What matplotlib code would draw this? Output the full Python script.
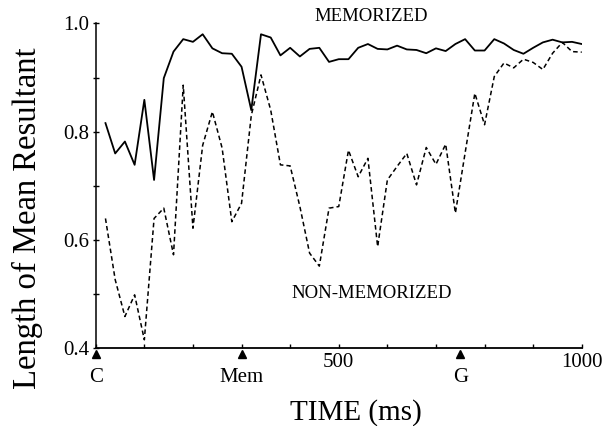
import matplotlib
matplotlib.use("Agg")
import matplotlib.pyplot as plt

# time bins (ms), one every 20 ms
time_ms = list(range(20, 1001, 20))

memorized = [
    0.816, 0.760, 0.782, 0.739, 0.859, 0.711, 0.899, 0.948, 0.971, 0.966,
    0.980, 0.954, 0.945, 0.944, 0.920, 0.840, 0.980, 0.974, 0.941, 0.955,
    0.939, 0.953, 0.955, 0.929, 0.934, 0.934, 0.955, 0.962, 0.953, 0.952,
    0.959, 0.952, 0.951, 0.945, 0.954, 0.949, 0.962, 0.971, 0.950, 0.950,
    0.971, 0.963, 0.951, 0.944, 0.955, 0.965, 0.970, 0.965, 0.966, 0.962,
]

non_memorized = [
    0.640, 0.527, 0.459, 0.499, 0.416, 0.640, 0.659, 0.573, 0.886, 0.622,
    0.775, 0.837, 0.770, 0.634, 0.668, 0.830, 0.905, 0.840, 0.739, 0.737,
    0.662, 0.576, 0.552, 0.659, 0.662, 0.766, 0.717, 0.751, 0.588, 0.711,
    0.736, 0.760, 0.702, 0.771, 0.740, 0.777, 0.650, 0.761, 0.871, 0.813,
    0.902, 0.927, 0.918, 0.934, 0.928, 0.915, 0.945, 0.965, 0.948, 0.947,
]

# task events marked under the time axis
event_times = [0, 300, 750]
event_labels = ["C", "Mem", "G"]

plt.rcParams["font.family"] = ["Liberation Serif", "DejaVu Serif"]

fig = plt.figure(figsize=(6.06, 4.26), dpi=100)
ax = fig.add_axes([0.158, 0.182, 0.802, 0.763])

ax.plot(time_ms, memorized, color="black", lw=1.3)
ax.plot(time_ms, non_memorized, color="black", lw=1.1, dashes=(3, 2))

ax.set_xlim(0, 1000)
ax.set_ylim(0.4, 1.0)

ax.spines["top"].set_visible(False)
ax.spines["right"].set_visible(False)
ax.spines["left"].set_linewidth(1.1)
ax.spines["bottom"].set_linewidth(1.3)

xt = list(range(0, 1001, 100))
ax.set_xticks(xt)
ax.set_xticklabels(["500" if t == 500 else "1000" if t == 1000 else "" for t in xt])
ax.tick_params(axis="x", direction="in", length=3, width=1, pad=3, labelsize=15)

ax.set_yticks([0.4, 0.6, 0.8, 1.0])
ax.set_yticklabels(["0.4", "0.6", "0.8", "1.0"])
ax.set_yticks([0.5, 0.7, 0.9], minor=True)
ax.tick_params(axis="y", which="both", direction="inout", length=5, width=1, pad=2, labelsize=15)

# event markers and labels
trans = ax.get_xaxis_transform()
ax.plot(event_times, [-0.017] * len(event_times), "^", color="black", ms=6,
        transform=trans, clip_on=False)
for t, lab in zip(event_times, event_labels):
    ax.text(t, -0.09, lab, transform=trans, ha="center", va="center", fontsize=15)

ax.text(567, 1.0125, "MEMORIZED", ha="center", va="center", fontsize=13.5)
ax.text(567, 0.502, "NON-MEMORIZED", ha="center", va="center", fontsize=13.5)

ax.set_xlabel("TIME (ms)", fontsize=21)
ax.xaxis.set_label_coords(0.536, -0.155)
ax.set_ylabel("Length of Mean Resultant", fontsize=23.5)
ax.yaxis.set_label_coords(-0.108, 0.40)

fig.savefig("out.png", dpi=100)
